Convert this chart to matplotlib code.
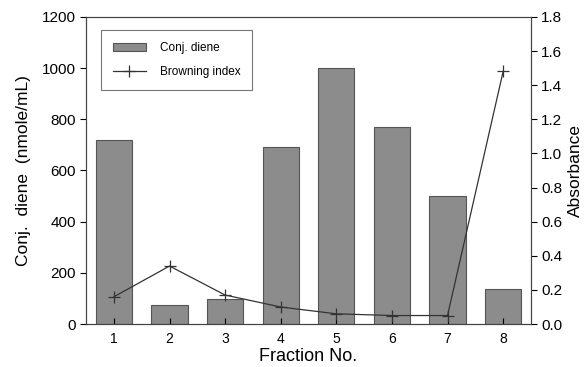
import matplotlib
matplotlib.use("Agg")
import matplotlib.pyplot as plt
import numpy as np

plt.rcParams['font.family'] = ['Liberation Sans', 'DejaVu Sans']

fractions = [1, 2, 3, 4, 5, 6, 7, 8]
conj_diene = [719, 74, 98, 690, 1000, 770, 500, 137]
browning = [0.16, 0.34, 0.17, 0.10, 0.06, 0.05, 0.05, 1.48]

fig = plt.figure(figsize=(5.86, 3.67), dpi=100)
ax = fig.add_axes([0.147, 0.117, 0.759, 0.837])

bars = ax.bar(fractions, conj_diene, width=0.65, color='#8c8c8c',
              edgecolor='#555555', linewidth=0.8, label='Conj. diene')
ax.set_xlim(0.5, 8.5)
ax.set_ylim(0, 1200)
ax.set_yticks(np.arange(0, 1201, 200))
ax.set_xticks(fractions)
ax.tick_params(axis='x', direction='in', length=4, labelsize=10, pad=6)
ax.tick_params(axis='y', direction='out', length=4, labelsize=11)
ax.set_xlabel('Fraction No.', fontsize=13, labelpad=1)
ax.set_ylabel('Conj.  diene  (nmole/mL)', fontsize=12.5, labelpad=8)

ax2 = ax.twinx()
line, = ax2.plot(fractions, browning, color='#333333', linewidth=0.9,
                 marker='+', markersize=8, markeredgewidth=0.9, label='Browning index')
ax2.set_ylim(0, 1.8)
ax2.set_yticks(np.arange(0, 1.81, 0.2))
ax2.set_yticklabels([f'{v:.1f}' for v in np.arange(0, 1.81, 0.2)])
ax2.tick_params(axis='y', direction='out', length=4, labelsize=11)
ax2.set_ylabel('Absorbance', fontsize=12.5)

for a in (ax, ax2):
    for s in a.spines.values():
        s.set_linewidth(0.8)
        s.set_color('#444444')

leg = ax.legend([bars, line], ['Conj. diene', 'Browning index'], loc='upper left',
                bbox_to_anchor=(0.02, 0.975), fontsize=8.5, fancybox=False,
                edgecolor='#555555', borderpad=1.0, labelspacing=1.0,
                handlelength=2.8, handletextpad=1.2)
leg.get_frame().set_linewidth(0.8)

fig.savefig('out.png', dpi=100)
